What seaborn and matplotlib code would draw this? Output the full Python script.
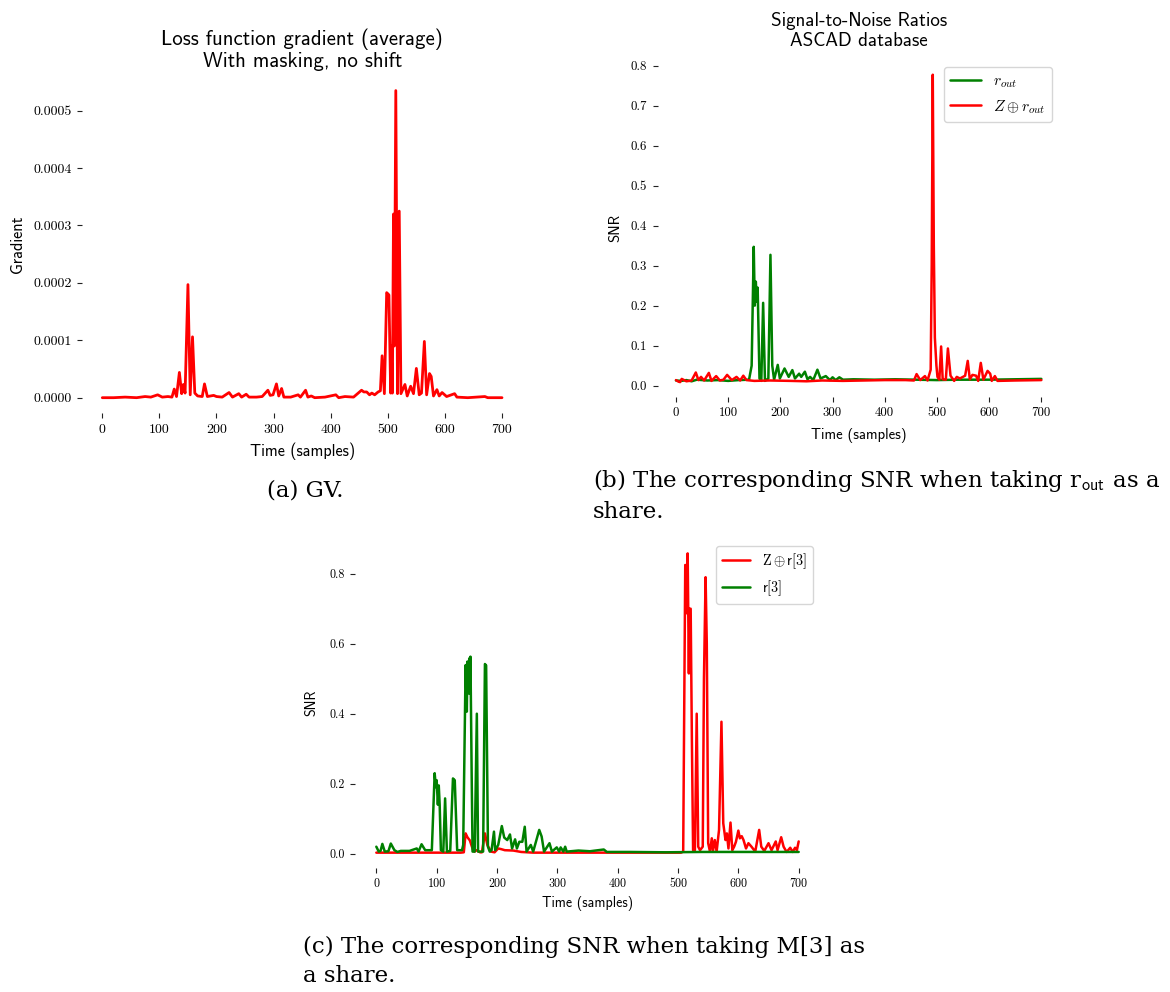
import matplotlib
matplotlib.use("Agg")
import matplotlib.pyplot as plt
import numpy as np
import seaborn as sns

# ── Data ──────────────────────────────────────────────────────────────────────
# (a) average loss gradient, values in units of 1e-4
GV_T = [0, 20, 40, 60, 75, 85, 97, 105, 115, 122, 126, 130, 135, 139, 142, 145,
        150, 154, 158, 162, 167, 175, 179, 184, 195, 200, 210, 222, 228, 239, 244,
        252, 257, 270, 280, 290, 294, 299, 305, 309, 314, 318, 330, 343, 347, 356,
        360, 366, 372, 390, 409, 414, 425, 440, 454, 458, 463, 468, 472, 477, 483,
        487, 490, 494, 498, 502, 505, 506, 508, 510, 511.5, 514, 517, 520, 523,
        530, 534, 540, 545, 550, 555, 559, 564, 568, 573, 576, 580, 586, 590, 595,
        603, 617, 621, 640, 670, 675, 700]
GV_E4 = [0.0, 0.0, 0.01, 0.0, 0.02, 0.01, 0.05, 0.01, 0.02, 0.01, 0.15, 0.02, 0.44,
         0.07, 0.23, 0.08, 1.97, 0.05, 1.06, 0.08, 0.03, 0.02, 0.24, 0.02, 0.04,
         0.02, 0.01, 0.09, 0.01, 0.07, 0.01, 0.06, 0.01, 0.01, 0.02, 0.13, 0.04,
         0.05, 0.24, 0.03, 0.16, 0.01, 0.01, 0.05, 0.01, 0.13, 0.01, 0.03, 0.0,
         0.01, 0.05, 0.0, 0.02, 0.01, 0.13, 0.1, 0.1, 0.05, 0.08, 0.05, 0.1, 0.12,
         0.73, 0.07, 1.83, 1.79, 0.08, 0.9, 0.08, 3.2, 0.9, 5.35, 0.07, 3.25, 0.07,
         0.23, 0.03, 0.2, 0.07, 0.51, 0.05, 0.08, 0.98, 0.05, 0.42, 0.37, 0.03,
         0.14, 0.03, 0.09, 0.02, 0.07, 0.01, 0.0, 0.02, 0.0, 0.0]

# (b) SNR, ASCAD
B_ROUT_T = [0, 10, 20, 30, 40, 60, 80, 100, 120, 140, 145, 149, 151, 153, 155,
            156.5, 160, 163.5, 167, 170.5, 177, 181, 184.5, 188, 195, 199, 208,
            216, 223, 228, 236, 240, 247, 252, 257, 263, 271, 277, 287, 295, 300,
            306, 313, 320, 340, 380, 420, 460, 500, 540, 600, 650, 700]
B_ROUT = [0.013, 0.012, 0.014, 0.011, 0.015, 0.013, 0.014, 0.012, 0.014, 0.015,
          0.05, 0.347, 0.2, 0.26, 0.21, 0.245, 0.018, 0.012, 0.207, 0.012, 0.018,
          0.327, 0.05, 0.015, 0.052, 0.018, 0.043, 0.022, 0.039, 0.018, 0.03,
          0.022, 0.035, 0.016, 0.022, 0.014, 0.04, 0.018, 0.024, 0.014, 0.021,
          0.014, 0.021, 0.015, 0.016, 0.015, 0.016, 0.015, 0.014, 0.015, 0.015,
          0.016, 0.017]
B_ZROUT_T = [0, 5, 8, 11, 20, 30, 38, 43, 48, 54, 63, 68, 77, 84, 91, 98, 107, 116,
             123, 129, 135, 150, 180, 220, 250, 280, 320, 360, 400, 440, 456, 461,
             468, 477, 482, 488, 490, 492, 494, 496, 499, 501, 504.6, 508, 511,
             517, 521, 526, 533, 538, 544, 554, 559, 563, 568, 575, 579, 584, 589,
             597, 602, 605, 611, 616, 650, 700]
B_ZROUT = [0.014, 0.01, 0.009, 0.017, 0.011, 0.013, 0.033, 0.014, 0.022, 0.013,
           0.032, 0.012, 0.024, 0.013, 0.015, 0.027, 0.014, 0.022, 0.013, 0.025,
           0.014, 0.012, 0.013, 0.012, 0.011, 0.013, 0.012, 0.013, 0.014, 0.014,
           0.013, 0.029, 0.014, 0.024, 0.013, 0.04, 0.3, 0.777, 0.35, 0.12, 0.05,
           0.022, 0.015, 0.098, 0.016, 0.015, 0.093, 0.025, 0.012, 0.022, 0.018,
           0.025, 0.062, 0.016, 0.027, 0.025, 0.012, 0.057, 0.015, 0.037, 0.03,
           0.012, 0.024, 0.012, 0.013, 0.014]

# (c) SNR, M[3] as a share
C_R3_T = [0, 4, 7, 10, 14, 20, 24, 30, 35, 40.5, 55, 67, 70, 75, 81, 92, 96.7,
          98.7, 100, 102, 103.5, 105, 107, 111, 114, 117, 122.5, 127, 130, 134,
          142, 144, 148, 150, 151, 152.4, 154, 155, 156, 158, 159.5, 163, 166.6,
          168.6, 177, 180, 182, 185, 188, 191, 195, 197, 202, 208, 212, 217,
          221.5, 225, 230, 233, 237, 242, 246, 249, 256, 260, 270, 274, 278, 287,
          291, 299, 303, 305.5, 310, 313, 315.5, 335, 354, 377, 382, 420, 480,
          540, 600, 650, 700]
C_R3 = [0.02, 0.006, 0.008, 0.028, 0.006, 0.007, 0.029, 0.01, 0.005, 0.008,
        0.008, 0.015, 0.006, 0.027, 0.01, 0.01, 0.23, 0.19, 0.21, 0.14, 0.195,
        0.14, 0.01, 0.006, 0.158, 0.006, 0.008, 0.215, 0.21, 0.01, 0.01, 0.025,
        0.539, 0.406, 0.549, 0.458, 0.558, 0.458, 0.563, 0.23, 0.006, 0.006, 0.40,
        0.006, 0.006, 0.542, 0.538, 0.02, 0.006, 0.01, 0.063, 0.01, 0.025, 0.079,
        0.046, 0.039, 0.055, 0.015, 0.041, 0.015, 0.034, 0.034, 0.077, 0.006,
        0.025, 0.006, 0.068, 0.049, 0.006, 0.03, 0.006, 0.018, 0.006, 0.018,
        0.006, 0.02, 0.006, 0.009, 0.007, 0.012, 0.005, 0.005, 0.004, 0.005,
        0.005, 0.005, 0.005]
C_ZR3_T = [0, 50, 100, 140, 145, 148, 151, 155, 160, 163, 166, 172, 175, 180, 184,
           190, 196, 202, 207, 213, 227, 240, 260, 350, 450, 505, 508.6, 512,
           513.7, 516, 518, 519, 521, 523, 525, 528, 531, 533.5, 536.5, 541, 543,
           545.7, 547.7, 550, 553, 556, 558, 561, 564, 568, 572, 575, 578.7, 581,
           583.6, 587, 590, 593, 596, 600, 602.5, 605.6, 608.6, 612.7, 616.7,
           621.8, 628, 634.5, 638, 643, 650, 655, 662, 665, 671, 675, 680, 686,
           690, 694, 697, 700]
C_ZR3 = [0.003, 0.003, 0.003, 0.003, 0.004, 0.058, 0.047, 0.038, 0.012, 0.006,
         0.01, 0.004, 0.004, 0.058, 0.025, 0.006, 0.004, 0.015, 0.013, 0.01,
         0.009, 0.005, 0.003, 0.003, 0.003, 0.003, 0.006, 0.825, 0.687, 0.858,
         0.515, 0.70, 0.70, 0.325, 0.01, 0.01, 0.40, 0.02, 0.01, 0.02, 0.5, 0.79,
         0.6, 0.03, 0.006, 0.044, 0.009, 0.039, 0.006, 0.068, 0.377, 0.087, 0.039,
         0.058, 0.015, 0.089, 0.01, 0.02, 0.034, 0.066, 0.044, 0.05, 0.039, 0.015,
         0.03, 0.02, 0.006, 0.068, 0.02, 0.008, 0.03, 0.01, 0.035, 0.01, 0.047,
         0.02, 0.005, 0.017, 0.005, 0.017, 0.01, 0.035]

X_TICKS = [0, 100, 200, 300, 400, 500, 600, 700]
GV_YTICKS = [0.0, 0.0001, 0.0002, 0.0003, 0.0004, 0.0005]
B_YTICKS = [0.0, 0.1, 0.2, 0.3, 0.4, 0.5, 0.6, 0.7, 0.8]
C_YTICKS = [0.0, 0.2, 0.4, 0.6, 0.8]

# ── Style ─────────────────────────────────────────────────────────────────────
W, H = 1170, 992
sns.set_theme(style="ticks")
plt.rcParams.update({
    "mathtext.fontset": "cm",
    "axes.unicode_minus": False,
    "xtick.direction": "out",
    "ytick.direction": "out",
    "text.color": "black",
    "axes.labelcolor": "black",
    "xtick.color": "black",
    "ytick.color": "black",
})
SANS = "cmss10"
TICKFONT = "cmr10"
CAPFONT = "DejaVu Serif"


def px_axes(fig, left, top, right, bottom):
    """Axes placed by pixel box (top-left origin)."""
    return fig.add_axes([left / W, 1 - bottom / H, (right - left) / W, (bottom - top) / H])


def style_axes(ax, yticks, yfmt, xlim, ylim, tsize, lsize, xpad):
    ax.set_xlim(*xlim)
    ax.set_ylim(*ylim)
    sns.despine(ax=ax, left=True, bottom=True)
    ax.set_xticks(X_TICKS, [str(t) for t in X_TICKS], fontfamily=TICKFONT, fontsize=tsize)
    ax.set_yticks(yticks, [yfmt.format(v) for v in yticks], fontfamily=TICKFONT, fontsize=tsize)
    ax.tick_params(length=3.5, width=0.8, color="#222222", pad=4)
    ax.set_xlabel("Time (samples)", fontfamily=SANS, fontsize=lsize, labelpad=xpad)
    ax.grid(False)


fig = plt.figure(figsize=(W / 100, H / 100), dpi=100)

# (a)
ax_a = px_axes(fig, 82.3, 75.2, 522, 413.3)
sns.lineplot(x=GV_T, y=np.array(GV_E4) * 1e-4, ax=ax_a, color="red", linewidth=2.0)
style_axes(ax_a, GV_YTICKS, "{:.4f}", (-35, 735), (-0.0000272, 0.0005618), 10, 11.7, 5)
ax_a.set_ylabel("Gradient", fontfamily=SANS, fontsize=11.7, labelpad=6)
ax_a.set_title("Loss function gradient (average)\nWith masking, no shift",
               fontfamily=SANS, fontsize=15, pad=6, linespacing=1.15)

# (b)
ax_b = px_axes(fig, 657.7, 59.5, 1059.6, 396.7)
sns.lineplot(x=B_ROUT_T, y=B_ROUT, ax=ax_b, color="green", linewidth=1.8,
             label=r"$r_{out}$")
sns.lineplot(x=B_ZROUT_T, y=B_ZROUT, ax=ax_b, color="red", linewidth=1.8,
             label=r"$Z \oplus r_{out}$")
style_axes(ax_b, B_YTICKS, "{:.1f}", (-35, 735), (-0.0275, 0.815), 9.3, 10.6, 6)
ax_b.set_ylabel("SNR", fontfamily=SANS, fontsize=10.6, labelpad=6)
ax_b.set_title("Signal-to-Noise Ratios\nASCAD database", fontfamily=SANS,
               fontsize=13.7, pad=10, linespacing=1.12)
ax_b.legend(loc="upper right", fontsize=11.2)

# (c)
ax_c = px_axes(fig, 355.2, 538.7, 819.8, 867.7)
sns.lineplot(x=C_ZR3_T, y=C_ZR3, ax=ax_c, color="red", linewidth=1.8,
             label=r"$\mathrm{Z} \oplus \mathsf{r[3]}$")
sns.lineplot(x=C_R3_T, y=C_R3, ax=ax_c, color="green", linewidth=1.8,
             label=r"$\mathsf{r[3]}$")
style_axes(ax_c, C_YTICKS, "{:.1f}", (-35, 735), (-0.04, 0.90), 8.7, 10, 4)
ax_c.set_ylabel("SNR", fontfamily=SANS, fontsize=10, labelpad=8)
ax_c.legend(loc="upper right", fontsize=10.3)

# captions
CAP = 16.5
fig.text(305 / W, 1 - 491 / H, "(a) GV.", fontfamily=CAPFONT, fontsize=CAP,
         ha="center", va="center")
fig.text(593 / W, 1 - 480 / H,
         r"(b) The corresponding SNR when taking r$_\mathsf{out}$ as a",
         fontfamily=CAPFONT, fontsize=CAP, ha="left", va="center")
fig.text(593 / W, 1 - 512 / H, "share.", fontfamily=CAPFONT, fontsize=CAP,
         ha="left", va="center")
fig.text(303 / W, 1 - 947 / H, "(c) The corresponding SNR when taking M[3] as",
         fontfamily=CAPFONT, fontsize=CAP, ha="left", va="center")
fig.text(303 / W, 1 - 976 / H, "a share.", fontfamily=CAPFONT, fontsize=CAP,
         ha="left", va="center")

fig.savefig("out.png", dpi=100, facecolor="white")
